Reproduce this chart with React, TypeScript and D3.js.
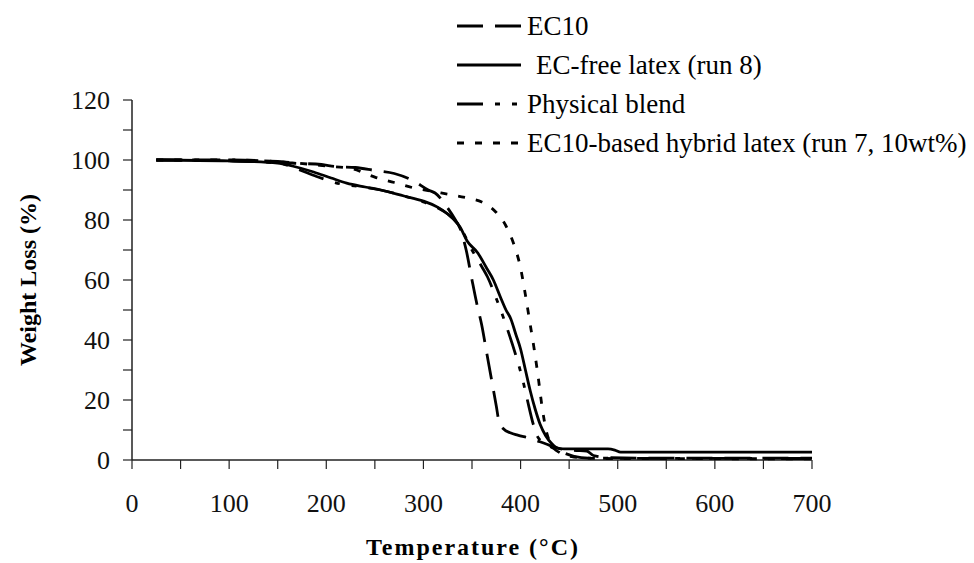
import React from "react";
import * as d3 from "d3";

// Thermogravimetric curves: temperature (°C) vs remaining weight (%)
const ec10Temp = [25, 100, 150, 165, 195, 210, 230, 250, 270, 290, 305, 312, 325, 333, 338, 344, 350, 355, 360, 365, 370, 375, 378, 382, 390, 397, 410, 425, 440, 455, 468, 475, 490, 520, 700];
const ec10Weight = [100, 100, 99.5, 99, 98.5, 97.8, 97.5, 96.5, 95.5, 93, 90, 89, 84, 80, 77, 70, 60, 52, 45, 36, 27, 18, 12.5, 10.5, 9, 8.3, 7.2, 5.5, 3.8, 3.2, 3, 1.5, 0.8, 0.6, 0.6];

const freeTemp = [25, 100, 150, 165, 187, 205, 221, 240, 256, 280, 300, 315, 325, 332, 338, 345, 356, 365, 372, 379, 385, 390, 395, 400, 405, 410, 415, 420, 426, 432, 438, 445, 490, 497, 503, 700];
const freeWeight = [100, 99.7, 99, 98, 96, 94, 92.3, 91, 90, 88, 86.3, 84.2, 82, 80, 77.5, 73, 69, 64, 60, 54.5, 50, 47, 42, 37, 30, 23, 17, 12, 8, 5.5, 4, 3.7, 3.7, 3.3, 2.6, 2.6];

const blendTemp = [25, 100, 150, 170, 190, 215, 238, 256, 280, 300, 315, 325, 338, 350, 360, 366, 376, 385, 395, 402, 407, 413, 418, 428, 440, 455, 470, 700];
const blendWeight = [100, 99.7, 99, 97, 94.5, 92, 91, 90, 88, 86, 84, 82, 77.5, 70, 64.5, 61, 53, 45, 35, 27, 20, 12, 7.5, 5, 3, 1.2, 0.6, 0.5];

const hybridTemp = [25, 100, 150, 200, 228, 240, 250, 270, 290, 310, 335, 350, 360, 375, 385, 393, 400, 405, 410, 414, 418, 422, 427, 432, 440, 455, 480, 700];
const hybridWeight = [100, 100, 99.5, 98, 97, 95.5, 94.3, 92.5, 90.7, 89.5, 88, 87, 86, 82.5, 78, 72, 64, 55, 45, 37, 28, 18, 9, 5, 2.5, 1, 0.5, 0.4];

const seriesNames = ["EC10", "EC-free latex (run 8)", "Physical blend", "EC10-based hybrid latex (run 7, 10wt%)"];
const xTickLabels = [0, 100, 200, 300, 400, 500, 600, 700];
const yTickLabels = [0, 20, 40, 60, 80, 100, 120];

const W = 974;
const H = 563;
const FONT = '"Liberation Serif", "DejaVu Serif", "Noto Serif", Times, serif';

const x = d3.scaleLinear().domain([0, 700]).range([132, 812]);
const y = d3.scaleLinear().domain([0, 120]).range([460, 100]);

const line = d3
  .line<[number, number]>()
  .x((d) => x(d[0]))
  .y((d) => y(d[1]))
  .curve(d3.curveMonotoneX);

const zip = (t: number[], v: number[]) => t.map((tt, i) => [tt, v[i]] as [number, number]);

const series = [
  { name: seriesNames[0], data: zip(ec10Temp, ec10Weight), dash: "26 12" },
  { name: seriesNames[1], data: zip(freeTemp, freeWeight), dash: "none" },
  { name: seriesNames[2], data: zip(blendTemp, blendWeight), dash: "26 12 5 12 5 12" },
  { name: seriesNames[3], data: zip(hybridTemp, hybridWeight), dash: "7 11" },
];

const xMinor = d3.range(0, 701, 50);
const yMinor = d3.range(0, 121, 10);

const txt: React.CSSProperties = { fontFamily: FONT };

export default function App() {
  return (
    <svg
      width={W}
      height={H}
      style={{ position: "absolute", left: 0, top: 0, background: "#fff", fontFamily: FONT }}
    >
      <rect width={W} height={H} fill="#fff" />

      {/* axes */}
      <line x1={x(0)} x2={x(700)} y1={y(0)} y2={y(0)} stroke="#222" strokeWidth={1.5} />
      <line x1={x(0)} x2={x(0)} y1={y(0)} y2={y(120)} stroke="#222" strokeWidth={1.5} />
      {xMinor.map((t) => (
        <line key={"xt" + t} x1={x(t)} x2={x(t)} y1={y(0)} y2={y(0) + 9} stroke="#222" strokeWidth={1.2} />
      ))}
      {yMinor.map((t) => (
        <line key={"yt" + t} x1={x(0) - 9} x2={x(0)} y1={y(t)} y2={y(t)} stroke="#222" strokeWidth={1.2} />
      ))}
      {xTickLabels.map((t) => (
        <text key={"xl" + t} x={x(t)} y={512} textAnchor="middle" fontSize={26} fill="#111" style={txt}>
          {t}
        </text>
      ))}
      {yTickLabels.map((t) => (
        <text key={"yl" + t} x={110} y={y(t)} dy="0.34em" textAnchor="end" fontSize={26} fill="#111" style={txt}>
          {t}
        </text>
      ))}

      {/* axis titles */}
      <text
        x={472}
        y={555}
        textAnchor="middle"
        fontSize={24}
        fontWeight="bold"
        fill="#000"
        textLength={212}
        lengthAdjust="spacing"
        style={txt}
      >
        Temperature (°C)
      </text>
      <text
        transform={`translate(36, ${(y(0) + y(120)) / 2}) rotate(-90)`}
        textAnchor="middle"
        fontSize={24}
        fontWeight="bold"
        fill="#000"
        style={txt}
      >
        Weight Loss (%)
      </text>

      {/* curves */}
      {series.map((s) => (
        <path
          key={s.name}
          d={line(s.data) || ""}
          fill="none"
          stroke="#000"
          strokeWidth={2.8}
          strokeDasharray={s.dash}
        />
      ))}

      {/* legend */}
      {series.map((s, i) => {
        const ly = 26 + i * 39;
        return (
          <g key={"lg" + s.name}>
            <line x1={457} x2={521} y1={ly} y2={ly} stroke="#000" strokeWidth={3} strokeDasharray={s.dash} />
            <text x={i === 1 ? 536 : 527} y={ly + 9} fontSize={27} fill="#000" style={txt}>
              {s.name}
            </text>
          </g>
        );
      })}
    </svg>
  );
}
